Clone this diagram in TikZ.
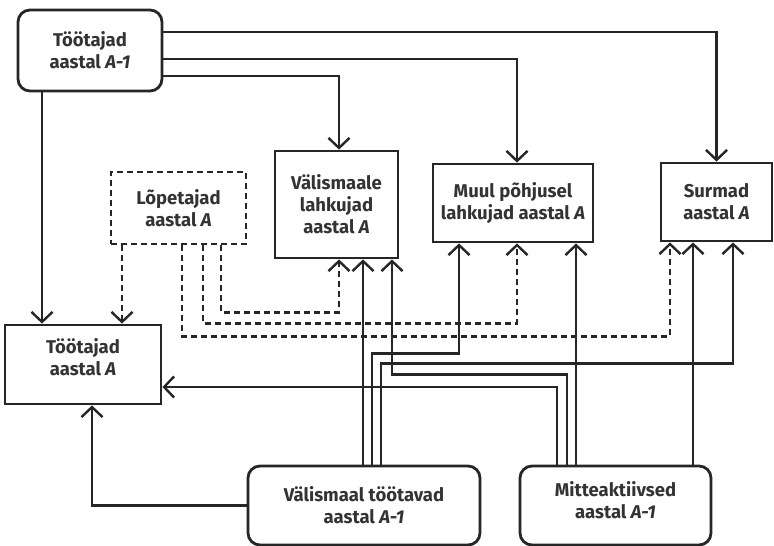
\documentclass[tikz,border=0pt]{standalone}
\usepackage{fontspec}
\setmainfont{Fira Sans}
\usetikzlibrary{arrows.meta}
\begin{document}
\begin{tikzpicture}[x=1pt,y=-1pt,
  box/.style={draw=black!85, line width=2.8pt, inner sep=0pt, align=center,
    font=\bfseries\fontsize{18.5}{22}\selectfont, text=black!80},
  rbox/.style={box, rounded corners=12pt},
  dbox/.style={box, dash pattern=on 6pt off 4pt},
  lbl/.style={inner sep=0pt, align=center, font=\bfseries\fontsize{18.5}{22}\selectfont, text=black!80},
  conn/.style={draw=black!85, line width=2.4pt, -{Straight Barb[length=10pt,width=21pt,line width=2.4pt]}},
  dconn/.style={conn, dash pattern=on 6pt off 4pt},
]
\useasboundingbox (0,0) rectangle (774,546);

% boxes
\node[rbox, minimum width=144pt, minimum height=81pt] (t1) at (90,50.5) {Töötajad\\aastal \textit{A-1}};
\node[dbox, minimum width=135pt, minimum height=72pt] (lo) at (178.5,208) {Lõpetajad\\aastal \textit{A}};
\node[box, minimum width=123pt, minimum height=107pt] (va) at (336.5,204.5) {Välismaale\\lahkujad\\aastal \textit{A}};
\node[box, minimum width=160pt, minimum height=78pt] (mu) at (513,203) {Muul põhjusel\\lahkujad aastal \textit{A}};
\node[box, minimum width=111pt, minimum height=78pt] (su) at (716.5,202) {Surmad\\aastal \textit{A}};
\node[box, minimum width=156pt, minimum height=79pt] (ta) at (83,364.5) {};
\node[lbl] (tat) at ([yshift=7pt]ta.center) {Töötajad\\aastal \textit{A}};
\node[rbox, minimum width=232pt, minimum height=79pt] (vt) at (364,505.5) {Välismaal töötavad\\aastal \textit{A-1}};
\node[rbox, minimum width=191pt, minimum height=79pt] (mi) at (615.5,505.5) {};
\node[lbl] (mit) at ([yshift=5pt]mi.center) {Mitteaktiivsed\\aastal \textit{A-1}};

% from Töötajad A-1
\draw[conn] ([yshift=18.5pt]t1.east) -| (su.north);
\draw[conn] ([yshift=-8.5pt]t1.east) -| ([xshift=4pt]mu.north);
\draw[conn] ([yshift=-25.5pt]t1.east) -| ([xshift=2.5pt]va.north);
\draw[conn] ([xshift=-48pt]t1.south) -- ([xshift=-48pt]t1.south |- ta.north);

% from Lõpetajad (dashed)
\draw[dconn] ([xshift=-56.5pt]lo.south) -- ([xshift=-56.5pt]lo.south |- ta.north);
\draw[dconn] ([xshift=42.5pt]lo.south) -- ++(0,67) -| ([xshift=2.5pt]va.south);
\draw[dconn] ([xshift=24.5pt]lo.south) -- ++(0,78) -| ([xshift=4pt]mu.south);
\draw[dconn] ([xshift=3.5pt]lo.south) -- ++(0,91) -| ([xshift=-46.5pt]su.south);

% from Välismaal töötavad
\draw[conn] ([xshift=-1pt]vt.north) -- ([xshift=-1pt]vt.north |- va.south);
\draw[conn] ([xshift=8pt]vt.north) -- ++(0,-111) -| ([xshift=-54pt]mu.south);
\draw[conn] ([xshift=17pt]vt.north) -- ++(0,-101) -| ([xshift=16.5pt]su.south);
\draw[conn] (vt.west) -| ([xshift=9pt]ta.south);

% from Mitteaktiivsed
\draw[conn] ([xshift=-58.5pt]mi.north) |- ([yshift=-22.5pt]ta.east);
\draw[conn] ([xshift=-48.5pt]mi.north) -- ++(0,-90) -| ([xshift=55.5pt]va.south);
\draw[conn] ([xshift=-39.5pt]mi.north) -- ([xshift=-39.5pt]mi.north |- mu.south);
\draw[conn] ([xshift=77.5pt]mi.north) -- ([xshift=77.5pt]mi.north |- su.south);
\end{tikzpicture}
\end{document}
